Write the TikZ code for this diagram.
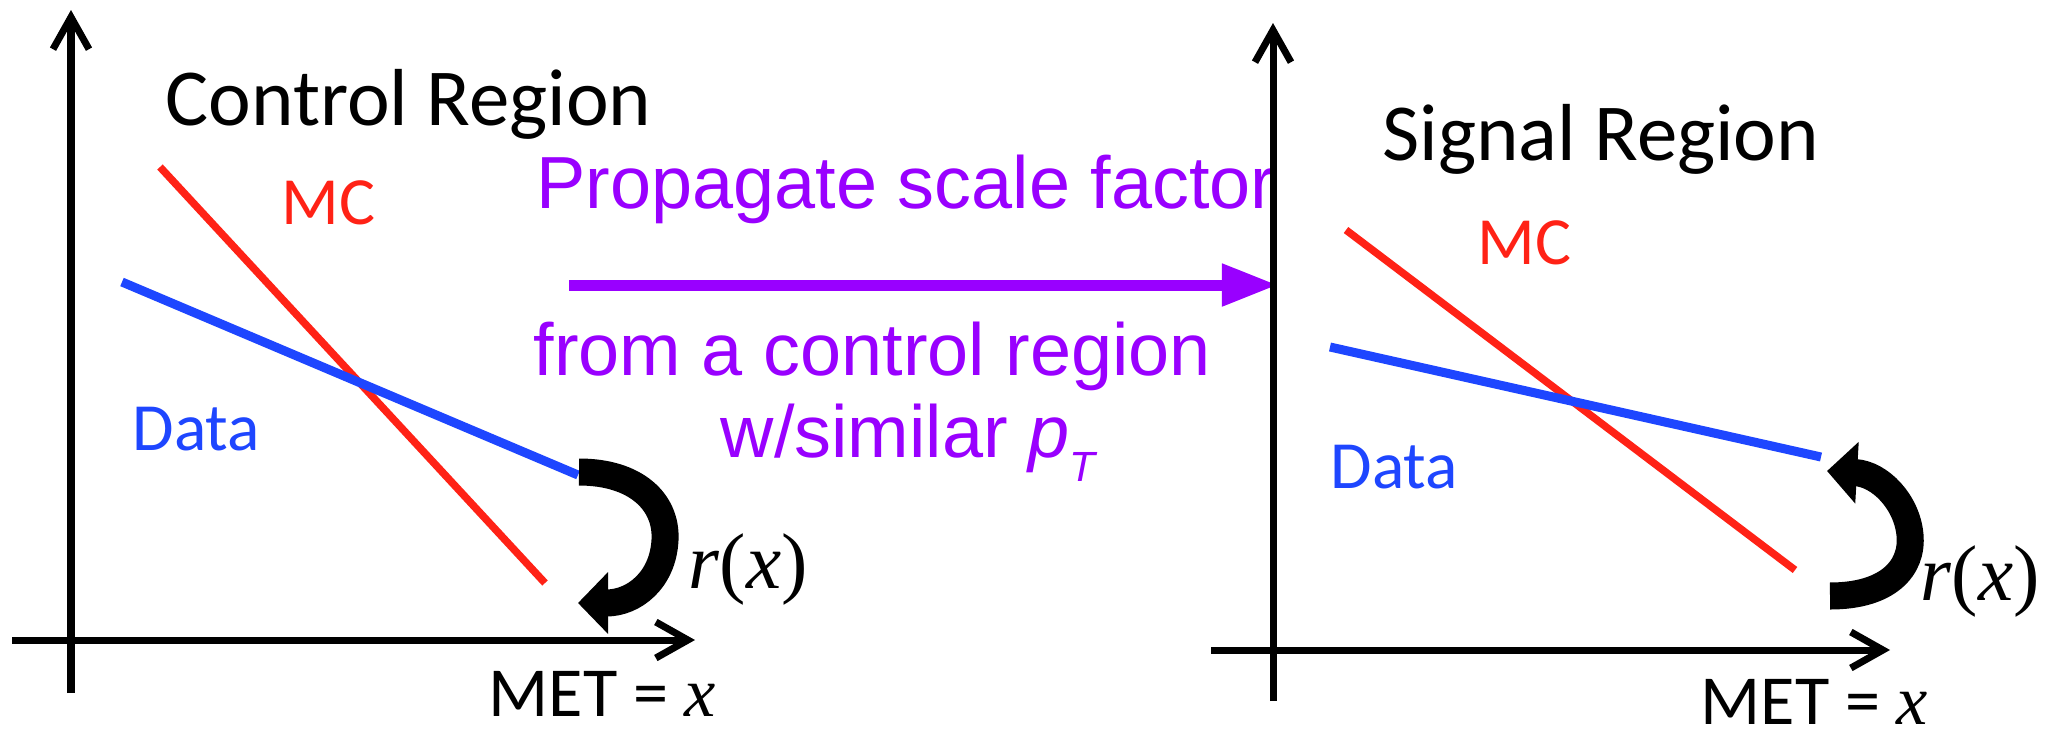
\documentclass[tikz,border=0pt]{standalone}
\usepackage{fontspec}
\setmainfont{Carlito}
\newfontfamily\arialfont{Liberation Sans}
\newfontfamily\timesfont{Liberation Serif}
\usetikzlibrary{arrows.meta}
\definecolor{mcred}{HTML}{FF2216}
\definecolor{datablue}{HTML}{1E46FF}
\definecolor{propviolet}{HTML}{9900FF}

\begin{document}
\begin{tikzpicture}[
  x=0.01cm,y=-0.01cm,
  axis/.style={line width=0.07cm,-{Straight Barb[length=3.2mm,width=3.6mm]}},
  mcline/.style={draw=mcred,line width=0.075cm},
  dataline/.style={draw=datablue,line width=0.09cm},
  ratio/.style={line width=0.27cm,-{Triangle[length=3mm,width=6mm]}},
  prop arrow/.style={draw=propviolet,line width=0.11cm,-{Triangle[length=5.6mm,width=4mm]}},
  title/.style={anchor=base west,inner sep=0pt,font=\fontsize{23}{27}\selectfont},
  curvelabel/.style={anchor=base west,inner sep=0pt,font=\fontsize{19.2}{22}\selectfont},
  prop/.style={anchor=base west,inner sep=0pt,text=propviolet,font=\arialfont\fontsize{21}{25}\selectfont},
  met/.style={anchor=base west,inner sep=0pt,text depth=0pt,font=\fontsize{20}{24}\selectfont},
  rx/.style={anchor=base west,inner sep=0pt,font=\timesfont\fontsize{22.5}{27}\selectfont}
]
\useasboundingbox (0,0) rectangle (2048,739);
\fill[white] (0,0) rectangle (2048,739);

% control region (left)
\coordinate (cry0) at (71,693);
\coordinate (cry1) at (71,10);
\coordinate (crx0) at (12,640);
\coordinate (crx1) at (695,640);
\coordinate (crmc0) at (160,167);
\coordinate (crmc1) at (545,583);
\coordinate (crdt0) at (122,282);
\coordinate (crdt1) at (578,475);
\coordinate (crr0) at (579,472);
\coordinate (crr1) at (578,603);
\draw[axis] (cry0) -- (cry1);
\draw[axis] (crx0) -- (crx1);
\draw[mcline] (crmc0) -- (crmc1);
\draw[dataline] (crdt0) -- (crdt1);
\draw[ratio] (crr0) .. controls (636,472) and (667,502) .. (665,540)
  .. controls (663,580) and (634,603) .. (crr1);
\node[title] (crtitle) at (165,125) {Control Region};
\node[curvelabel,text=mcred] (crmc) at (281,224) {MC};
\node[curvelabel,text=datablue] (crdata) at (132,450) {Data};
\node[met] (crmet) at (488,716) {MET = {\timesfont\itshape x}};
\node[rx] (crrx) at (688,588) {\textit{r}(\textit{x})};

% propagation
\coordinate (prop0) at (569,285);
\coordinate (prop1) at (1278,285);
\node[prop] (propline1) at (536,208) {Propagate scale factor};
\node[prop] (propline2) at (533,375) {from a control region};
\node[prop] (propline3) at (720,457) {w/similar \textit{p}\raisebox{-7pt}{\fontsize{12}{14}\selectfont\itshape T}};
\draw[prop arrow] (prop0) -- (prop1);

% signal region (right)
\coordinate (sry0) at (1273,701);
\coordinate (sry1) at (1273,23);
\coordinate (srx0) at (1211,650);
\coordinate (srx1) at (1890,650);
\coordinate (srmc0) at (1346,230);
\coordinate (srmc1) at (1795,570);
\coordinate (srdt0) at (1330,347);
\coordinate (srdt1) at (1821,457);
\coordinate (srr0) at (1830,596);
\coordinate (srr1) at (1827,471);
\draw[axis] (sry0) -- (sry1);
\draw[axis] (srx0) -- (srx1);
\draw[mcline] (srmc0) -- (srmc1);
\draw[dataline] (srdt0) -- (srdt1);
\draw[ratio] (srr0) .. controls (1888,596) and (1913,568) .. (1910,535)
  .. controls (1907,502) and (1880,474) .. (srr1);
\node[title] (srtitle) at (1382,160) {Signal Region};
\node[curvelabel,text=mcred] (srmc) at (1477,264) {MC};
\node[curvelabel,text=datablue] (srdata) at (1330,488) {Data};
\node[met] (srmet) at (1700,724) {MET = {\timesfont\itshape x}};
\node[rx] (srrx) at (1920,600) {\textit{r}(\textit{x})};
\end{tikzpicture}
\end{document}
